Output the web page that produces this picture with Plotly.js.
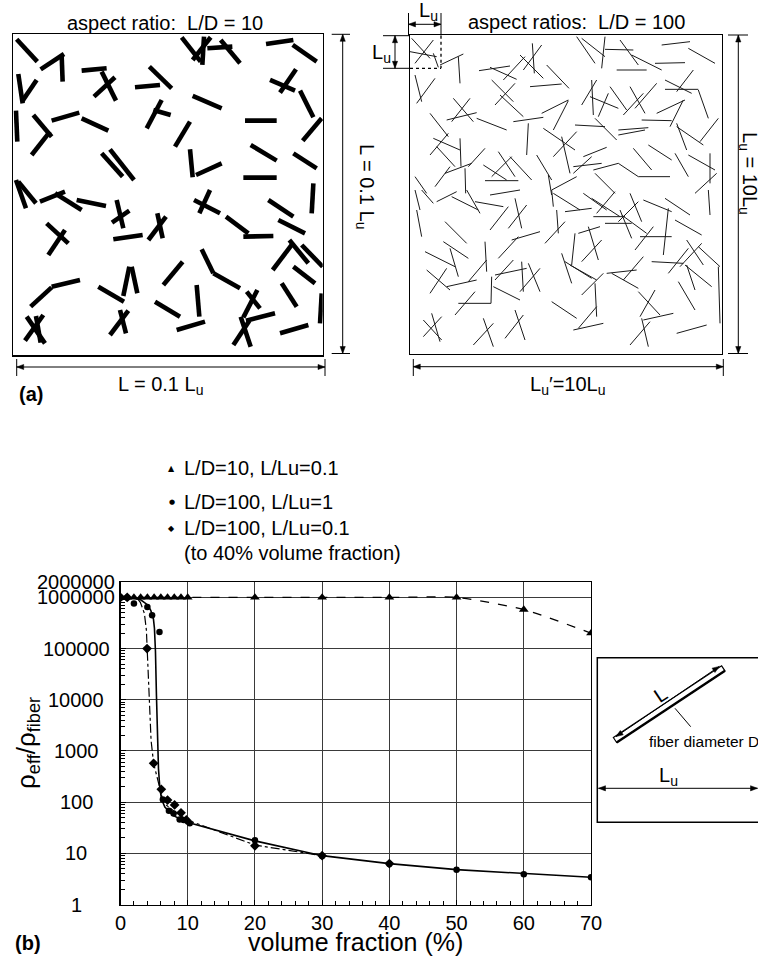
<!DOCTYPE html>
<html><head><meta charset="utf-8">
<script src="https://cdn.plot.ly/plotly-3.0.1.min.js"></script>
<style>html,body{margin:0;padding:0;background:#fff}#chart{width:758px;height:958px}</style>
</head><body><div id="chart"></div>
<script>
// ---------------- (b) data : volume fraction (%) vs rho_eff/rho_fiber ----------------
const triX = [0,1,2,3,4,5,6,7,8,9,10,20,30,40,50,60,70];
const triY = [1e6,1e6,1e6,1e6,1e6,1e6,1e6,1e6,1e6,1e6,1e6,1e6,1e6,1e6,1e6,580000,200000];

const circX = [0,1,2,4,4.7,5.8,6.3,7.2,7.9,8.8,9.4,10.3,20,30,40,50,60,70];
const circY = [1000000,1000000,760000,650000,450000,210000,113,68,60,46,45,38.5,18,8.9,6.2,4.8,3.9,3.4];
const circFitX = [0,2,3,4,4.5,4.9,5.05,5.2,5.35,5.5,5.65,5.85,6.1,6.6,7.8,9.8,20,30,40,50,60,70];
const circFitY = [1000000,960000,900000,720000,560000,380000,250000,90000,12000,1800,450,190,115,80,55,41,17.5,9,6.3,4.8,4.0,3.4];

const diaX = [0,1,3.95,4.93,6.07,7.0,8.05,9.0,9.8,20,30,40];
const diaY = [1000000,1000000,100000,572,178,110,88,62,45,14,9,6.3];
const diaFitX = [0,2.5,2.95,3.55,3.85,3.95,4.2,4.55,4.93,5.4,5.9,6.4,7.9,9.9,20,30];
const diaFitY = [1000000,950000,800000,490000,230000,100000,15000,1600,572,315,188,96,68,45,14.5,9];

const xTickVals = [0,10,20,30,40,50,60,70];
const xTickText = ['0','10','20','30','40','50','60','70'];
const yTickVals = [1,10,100,1000,10000,100000,1000000,2000000];
const yTickText = ['1','10','100','1000','10000','100000','1000000','2000000'];

const legendText = ['L/D=10, L/Lu=0.1','L/D=100, L/Lu=1','L/D=100, L/Lu=0.1','(to 40% volume fraction)'];

// ---------------- (a) fibre sketches, digitised end points [x1,y1,x2,y2] ----------------
// left panel (L/D = 10), frame x 40..968, y 103..1065 (y down)
const fibersLD10 = [
[50,118,112,185],[122,208,192,162],[185,165,188,245],[55,222,68,310],[66,305,110,240],
[245,212,320,205],[305,215,348,302],[282,290,345,232],[405,262,480,255],[448,200,515,265],
[545,112,602,185],[578,180,632,112],[612,110,607,195],[622,145,697,140],[662,120,720,190],
[798,132,880,120],[878,135,950,185],[810,240,885,272],[888,208,840,278],[900,272,940,352],
[578,288,665,325],[440,385,485,300],[460,330,512,345],[735,362,830,362],[908,422,965,355],
[48,332,52,425],[100,345,155,410],[95,465,150,395],[155,362,238,338],[245,355,325,392],
[525,440,570,365],[305,460,368,530],[330,448,402,540],[570,448,578,532],[588,525,665,490],
[752,435,830,482],[880,460,950,505],[730,533,830,533],[48,540,78,625],[55,545,108,610],
[120,605,195,575],[165,580,245,630],[230,600,318,618],[350,600,370,685],[336,668,388,632],
[582,600,660,640],[630,570,598,640],[678,650,745,700],[805,600,880,650],[940,550,935,640],
[140,670,205,730],[145,765,195,690],[340,718,428,705],[445,720,498,650],[472,640,488,715],
[730,710,820,708],[835,660,915,700],[868,720,925,790],[605,748,640,820],[640,820,720,865],
[490,855,548,785],[818,810,880,728],[905,735,968,800],[880,800,945,850],[92,920,155,862],
[155,860,240,840],[295,860,372,905],[370,888,388,800],[395,800,412,880],[465,905,540,950],
[590,855,598,950],[530,990,615,965],[845,850,890,920],[965,880,960,970],[840,1000,925,975],
[740,875,780,925],[772,870,730,952],[738,962,825,940],[722,950,752,1040],[700,1035,748,962],
[80,950,135,1030],[75,1022,130,945],[108,948,122,1028],[330,1005,385,932],[360,930,378,1000]
];
// right panel (L/D = 100), frame x 15..951, y 15..972 (y down)
const fibersLD100 = [
[20,25,75,85],[30,100,85,30],[15,65,95,80],[85,70,100,112],[105,105,175,72],[160,80,165,160],
[30,135,50,215],[35,220,90,145],[222,122,315,108],[255,112,335,148],[295,150,360,80],[345,75,415,145],
[382,40,388,130],[355,120,410,45],[260,150,325,215],[270,225,330,160],[285,195,355,260],[425,105,492,175],
[375,170,470,162],[515,20,570,100],[530,25,600,80],[600,20,590,115],[600,58,685,60],[645,30,700,105],
[680,75,770,120],[635,120,725,120],[750,100,840,98],[770,45,855,35],[850,55,930,100],[145,205,205,275],
[140,275,195,205],[125,270,215,248],[75,250,130,320],[215,265,305,300],[325,275,415,262],[370,280,365,375],
[410,250,490,210],[490,212,445,300],[415,295,510,360],[445,380,515,305],[470,320,495,430],[530,225,575,150],
[560,150,565,255],[555,200,640,235],[580,260,610,190],[570,265,635,330],[615,170,665,240],[675,170,720,250],
[655,255,715,190],[690,235,755,160],[510,285,600,290],[640,300,730,293],[640,315,720,300],[710,270,800,272],
[755,250,840,210],[795,290,835,210],[780,150,860,190],[815,185,865,120],[780,178,880,178],[880,180,910,265],
[815,280,845,360],[815,290,895,345],[885,335,940,265],[75,375,130,310],[85,325,165,360],[95,350,150,410],
[165,325,168,410],[190,410,240,355],[120,430,200,400],[90,470,135,410],[180,415,182,490],[235,405,305,450],
[280,365,330,440],[260,440,320,380],[240,452,340,452],[315,380,380,450],[395,375,440,450],[440,480,515,440],
[430,435,440,495],[535,380,605,352],[505,410,590,400],[505,430,560,380],[565,420,640,400],[570,430,630,490],
[640,400,700,440],[685,355,740,420],[700,440,795,440],[730,345,800,390],[810,370,850,440],[850,375,930,420],
[915,370,915,460],[870,490,935,430],[30,440,65,490],
[30,480,45,540],[50,480,85,520],[95,515,155,485],[140,500,220,540],[185,480,225,550],[210,515,295,530],
[255,495,345,480],[255,600,310,530],[310,595,365,525],[330,505,350,595],[35,540,50,620],[120,575,185,640],
[440,480,445,530],[445,490,525,540],[480,545,560,535],[455,540,460,610],[420,640,480,575],[535,490,605,540],
[560,505,645,560],[575,550,630,485],[565,560,660,560],[600,580,680,580],[645,540,680,625],[640,575,700,515],
[675,490,710,575],[650,555,725,610],[715,510,800,545],[780,505,855,555],[790,535,775,675],[810,570,890,615],
[705,620,800,620],[690,660,745,590],[910,480,915,555],[320,630,405,605],[280,685,340,620],[60,665,150,710],
[115,635,190,685],[135,655,160,740],[240,635,245,725],[190,755,245,690],[65,720,135,780],[75,790,125,715],
[125,770,215,750],[270,750,325,690],[270,735,365,715],[350,695,355,785],[265,770,345,810],[260,740,258,820],
[160,820,258,820],[150,855,210,785],[370,700,405,785],[345,785,405,715],[520,610,585,590],[510,610,500,705],
[550,590,580,690],[530,695,590,630],[470,670,500,760],[480,695,560,745],[495,705,575,750],[530,795,595,730],
[570,760,575,860],[605,730,695,720],[620,730,700,775],[655,750,715,680],[700,785,765,855],[705,860,750,780],
[710,865,730,950],[675,945,735,875],[715,870,805,850],[740,695,835,700],[790,730,850,655],[825,710,890,640],
[845,630,895,705],[840,705,920,770],[820,755,870,840],[845,705,870,780],[880,650,945,710],[440,815,515,865],
[505,900,595,880],[520,895,575,830],[815,910,905,885],[940,710,945,880],[55,920,110,860],[80,850,105,935],
[55,870,110,930],[205,945,265,880],[235,865,265,950],[300,925,355,855],[330,840,360,930]
];

// ---------------- helpers ----------------
const W = 758, H = 958;
const px = x => x / W;
const py = y => 1 - y / H;
const FONT = '"Liberation Sans", Arial, Helvetica, sans-serif';
function segXY(list){
  const x = [], y = [];
  list.forEach(s => { x.push(s[0], s[2], null); y.push(s[1], s[3], null); });
  return {x, y};
}
const fL = segXY(fibersLD10), fR = segXY(fibersLD100);

const data = [
  {x: fL.x, y: fL.y, xaxis:'x2', yaxis:'y2', mode:'lines', line:{color:'#000', width:4.6}, hoverinfo:'skip', showlegend:false, connectgaps:false},
  {x: fR.x, y: fR.y, xaxis:'x3', yaxis:'y3', mode:'lines', line:{color:'#1a1a1a', width:1}, hoverinfo:'skip', showlegend:false, connectgaps:false},
  {x: circFitX, y: circFitY, mode:'lines', line:{color:'#000', width:1.6}, showlegend:false, name:'fit L/D=100, L/Lu=1'},
  {x: diaFitX, y: diaFitY, mode:'lines', line:{color:'#000', width:1.2, dash:'dashdot'}, showlegend:false, name:'fit L/D=100, L/Lu=0.1'},
  {x: triX, y: triY, mode:'lines+markers', line:{color:'#000', width:1.3, dash:'dash', shape:'spline', smoothing:0.6},
   marker:{symbol:'triangle-up', size:8.5, color:'#000'}, name: legendText[0], showlegend:false},
  {x: circX, y: circY, mode:'markers', marker:{symbol:'circle', size:6.5, color:'#000'}, name: legendText[1], showlegend:false},
  {x: diaX, y: diaY, mode:'markers', marker:{symbol:'diamond', size:7.5, color:'#000'}, name: legendText[2], showlegend:false}
];

const tfont = {family: FONT, size: 20, color: '#000'};
const ann = [];
function txt(x, y, text, extra){ ann.push(Object.assign({xref:'paper', yref:'paper', x:px(x), y:py(y), text, showarrow:false, xanchor:'center', yanchor:'middle', font:tfont}, extra||{})); }
const shapes = [];
function ln(x1, y1, x2, y2, w, dash){ shapes.push({type:'line', xref:'paper', yref:'paper', x0:px(x1), y0:py(y1), x1:px(x2), y1:py(y2), line:{color:'#000', width:w||1, dash:dash||'solid'}}); }
function head(tx, ty, fx, fy){
  const dx = fx - tx, dy = fy - ty, L = Math.hypot(dx, dy), ux = dx / L, uy = dy / L;
  const len = 7, hw = 2.6, bx = tx + ux * len, by = ty + uy * len;
  const pts = [[tx, ty], [bx - uy * hw, by + ux * hw], [bx + uy * hw, by - ux * hw]];
  shapes.push({type:'path', xref:'paper', yref:'paper', path:'M' + pts.map(p => px(p[0]) + ',' + py(p[1])).join(' L') + ' Z', fillcolor:'#000', line:{color:'#000', width:0.5}});
}
function dbl(x1, y1, x2, y2){ ln(x1, y1, x2, y2, 1); head(x1, y1, x2, y2); head(x2, y2, x1, y1); }

// y tick labels (centred, as in the original)
yTickVals.forEach((v, i) => ann.push({xref:'paper', yref:'y', x:px(76), y:Math.log10(v), text:yTickText[i], showarrow:false, xanchor:'center', yanchor:'middle', font:tfont}));

// axis titles / panel labels
txt(355.7, 942, 'volume fraction (%)', {font:{family:FONT, size:25, color:'#000'}});
txt(27, 743, 'ρ<sub>eff</sub>/ρ<sub>fiber</sub>', {textangle:-90, font:{family:FONT, size:26, color:'#000'}});
txt(28, 943, '<b>(b)</b>');
txt(31, 394, '<b>(a)</b>');

// legend (markers + text)
txt(171.7, 468.3, '▲', {font:{family:'DejaVu Sans', size:8, color:'#000'}});
txt(171.7, 501.7, '●', {font:{family:'DejaVu Sans', size:7, color:'#000'}});
txt(171.7, 528.3, '◆', {font:{family:'DejaVu Sans', size:8, color:'#000'}});
txt(181.7, 468.3, legendText[0], {xanchor:'left'});
txt(181.7, 501.7, legendText[1], {xanchor:'left'});
txt(181.7, 528.3, legendText[2], {xanchor:'left'});
txt(181.7, 553.3, legendText[3], {xanchor:'left'});

// (a) titles and dimension labels
txt(165, 23, 'aspect ratio:\u00a0 L/D = 10');
txt(576.7, 22, 'aspect ratios:\u00a0 L/D = 100');
txt(366, 186, 'L = 0.1 L<sub>u</sub>', {textangle:90});
txt(160, 385, 'L = 0.1 L<sub>u</sub>');
txt(749, 173, 'L<sub>u</sub> = 10L<sub>u</sub>', {textangle:90});
txt(568, 385, 'L<sub>u</sub>′=10L<sub>u</sub>');
txt(428, 11, 'L<sub>u</sub>');
txt(381, 53, 'L<sub>u</sub>');

// dimension arrows, left panel
dbl(342.7, 34.3, 342.7, 353.5); ln(331.7, 34.3, 350, 34.3); ln(331.7, 353.5, 350, 353.5);
dbl(16.7, 367, 325, 367); ln(16.7, 359, 16.7, 376); ln(325, 359, 325, 376);
// right panel
dbl(738.3, 35, 738.3, 353.5); ln(728, 35, 748, 35); ln(728, 353.5, 748, 353.5);
dbl(413.3, 366.7, 723.3, 366.7); ln(413.3, 359, 413.3, 376); ln(723.3, 359, 723.3, 376);
dbl(408.5, 24.3, 441, 24.3); ln(408.5, 13, 408.5, 35.5); ln(441, 13, 441, 35.5);
dbl(395, 35.7, 395, 68.3); ln(383, 35.7, 410, 35.7); ln(383, 68.3, 410, 68.3);
ln(441, 35.7, 441, 68.3, 1.3, 'dot'); ln(410, 68.3, 441, 68.3, 1.3, 'dot');

// inset: single fibre
shapes.push({type:'rect', xref:'paper', yref:'paper', x0:px(597.3), y0:py(822.3), x1:px(775), y1:py(657.7), line:{color:'#000', width:1.5}});
const fibPath = [[613.34,737.5],[721.64,665.8],[724.96,670.8],[616.66,742.5]];
shapes.push({type:'path', xref:'paper', yref:'paper', path:'M' + fibPath.map(p => px(p[0]) + ',' + py(p[1])).join(' L') + ' Z', line:{color:'#000', width:1.2}, fillcolor:'#fff'});
ln(616.66, 742.5, 724.96, 670.8, 2.4);
dbl(616, 736.6, 719.3, 666.4);
ln(675, 708.3, 690.7, 726.7, 1);
txt(660, 695, 'L', {textangle:-33.5});
txt(647, 741.7, 'fiber diameter D', {xanchor:'left', font:{family:FONT, size:15.5, color:'#000'}});
txt(668, 776, 'L<sub>u</sub>');
dbl(598.5, 788.3, 757.5, 788.3);

const axBase = {showline:true, mirror:true, linecolor:'#000', zeroline:false, showgrid:false, showticklabels:false, ticks:'', fixedrange:true};
const layout = {
  width: W, height: H, margin:{l:0, r:0, t:0, b:0}, paper_bgcolor:'#fff', plot_bgcolor:'#fff',
  showlegend:false, hovermode:false, font:{family:FONT, color:'#000'},
  xaxis: {domain:[px(120.5), px(591)], range:[0,70], anchor:'y', tickmode:'array', tickvals:xTickVals, ticktext:xTickText,
    ticks:'inside', ticklen:5, tickcolor:'#000', showgrid:true, gridcolor:'#3a3a3a', gridwidth:1,
    showline:true, linecolor:'#000', linewidth:1.3, mirror:true, zeroline:false, tickfont:tfont, ticklabelstandoff:0,
    minor:{tick0:0, dtick:2, ticks:'inside', ticklen:4, tickcolor:'#000', showgrid:false}, fixedrange:true},
  yaxis: {domain:[py(904.5), py(582)], type:'log', range:[0, Math.log10(2000000)], anchor:'x', tickmode:'array', tickvals:yTickVals.slice(0,7),
    ticks:'inside', ticklen:5, tickcolor:'#000', showticklabels:false, showgrid:true, gridcolor:'#3a3a3a', gridwidth:1,
    showline:true, linecolor:'#000', linewidth:1.3, mirror:true, zeroline:false,
    minor:{tickmode:'array', tickvals:(function(){const a=[]; for(let d=1; d<=1e6; d*=10){ for(let k=2;k<=9;k++){ if(k*d<2e6) a.push(k*d);} } return a;})(), ticks:'inside', ticklen:4, tickcolor:'#000', showgrid:false}, fixedrange:true},
  xaxis2: Object.assign({}, axBase, {domain:[px(13.3), px(322.7)], range:[40,968], anchor:'y2', linewidth:1.5}),
  yaxis2: Object.assign({}, axBase, {domain:[py(355), py(34.3)], range:[1065,103], anchor:'x2', linewidth:1.5}),
  xaxis3: Object.assign({}, axBase, {domain:[px(410), px(722)], range:[15,951], anchor:'y3', linewidth:1.3}),
  yaxis3: Object.assign({}, axBase, {domain:[py(354), py(35)], range:[972,15], anchor:'x3', linewidth:1.3}),
  annotations: ann,
  shapes: shapes
};
Plotly.newPlot('chart', data, layout, {staticPlot:true, displayModeBar:false});
</script></body></html>
